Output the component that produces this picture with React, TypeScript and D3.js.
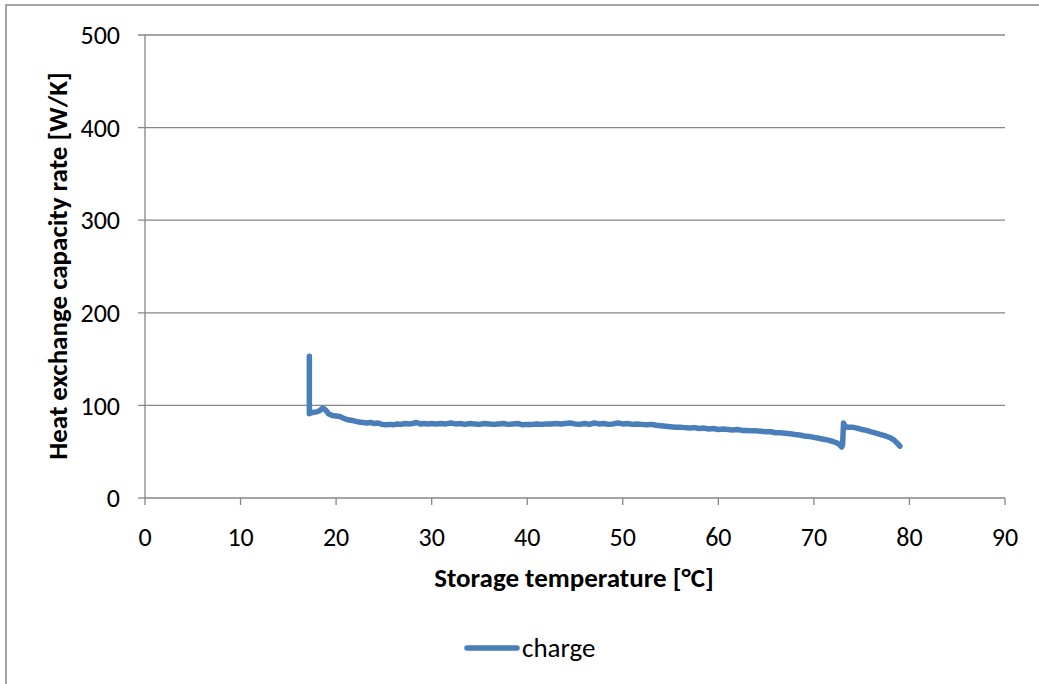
import React from "react";
import * as d3 from "d3";

const xTicks = [0, 10, 20, 30, 40, 50, 60, 70, 80, 90];
const yTicks = [0, 100, 200, 300, 400, 500];
const seriesName = "charge";

const temps = [
  17.2, 17.2, 17.25, 17.6, 18.0, 18.3, 18.6, 18.9, 19.2, 19.6, 20.0, 20.4, 20.8, 21.2, 21.6, 22.0, 22.4, 22.8,
  23.2, 23.6, 24.0, 24.4, 24.8, 25.2, 25.6, 26.0, 26.4, 26.8, 27.2, 27.6, 28.0, 28.4, 28.8, 29.2, 29.6, 30.0,
  30.5, 31.0, 31.5, 32.0, 32.5, 33.0, 33.5, 34.0, 34.5, 35.0, 35.5, 36.0, 36.5, 37.0, 37.5, 38.0, 38.5, 39.0,
  39.5, 40.0, 40.5, 41.0, 41.5, 42.0, 42.5, 43.0, 43.5, 44.0, 44.5, 45.0, 45.5, 46.0, 46.5, 47.0, 47.5, 48.0,
  48.5, 49.0, 49.5, 50.0, 50.5, 51.0, 51.5, 52.0, 52.5, 53.0, 53.5, 54.0, 54.5, 55.0, 55.5, 56.0, 56.5, 57.0,
  57.5, 58.0, 58.5, 59.0, 59.5, 60.0, 60.5, 61.0, 61.5, 62.0, 62.5, 63.0, 63.5, 64.0, 64.5, 65.0, 65.5, 66.0,
  66.5, 67.0, 67.5, 68.0, 68.5, 69.0, 69.5, 70.0, 70.5, 71.0, 71.5, 72.0, 72.4, 72.7, 72.9, 73.0, 73.1, 73.3,
  73.6, 74.0, 74.5, 75.0, 75.5, 76.0, 76.5, 77.0, 77.5, 78.0, 78.4, 78.7, 79.0,
];
const rates = [
  153, 91, 91.5, 92.5, 93, 94.5, 97, 95, 91, 89, 88.5, 88, 86, 84.5, 84, 83, 82, 81.5,
  81, 81.5, 80.5, 81, 79.5, 79, 79.5, 79, 80, 79.5, 80.5, 80, 80.5, 81.5, 80, 80.5, 80, 80.5,
  80, 80.5, 80, 81, 80, 80.5, 79.5, 80.5, 80, 79.5, 80.5, 80, 79.5, 80, 80.5, 79.5, 80, 80.5,
  79, 79.5, 79.5, 80, 79.5, 80, 80, 80.5, 80, 80.5, 81, 80, 79.5, 80.5, 79.5, 81, 80, 80.5,
  79.5, 80, 81, 80, 80.5, 79.5, 80, 79.5, 79, 79.5, 78.5, 78, 77.5, 77, 76.5, 76.5, 76, 75.5,
  76, 75, 75.5, 74.5, 75, 74, 74.5, 74, 73.5, 74, 73, 73, 72.5, 72.5, 72, 71.5, 71.5, 70.5,
  70.5, 70, 69.5, 68.5, 68, 67, 66.5, 65.5, 64.5, 63.5, 62.5, 61, 59.5, 57.5, 55, 57, 81, 77,
  76.5, 76.5, 75.5, 74, 73, 71.5, 70, 68.5, 67, 65, 62.5, 59.5, 56,
];

const W = 1039;
const H = 684;
const margin = { left: 145, right: 1005, top: 35, bottom: 498 };
const font = "Carlito, Calibri, 'Open Sans', sans-serif";
const grid = "#868686";
const blue = "#4a7ebb";

export default function App() {
  const x = d3.scaleLinear().domain([0, 90]).range([margin.left, margin.right]);
  const y = d3.scaleLinear().domain([0, 500]).range([margin.bottom, margin.top]);
  const pts: [number, number][] = temps.map((t, i) => [t, rates[i]]);
  const line = d3
    .line<[number, number]>()
    .x((d) => x(d[0]))
    .y((d) => y(d[1]));

  return (
    <svg
      width={W}
      height={H}
      style={{ position: "absolute", left: 0, top: 0, background: "#fff" }}
    >
      <rect x={0} y={0} width={W} height={H} fill="#fff" />
      <rect x={6} y={5} width={W + 20} height={H + 20} fill="none" stroke={grid} strokeWidth={1.5} />
      {yTicks.map((t) => (
        <g key={"y" + t}>
          <line
            x1={margin.left - 7}
            x2={t === 0 ? margin.left : margin.right}
            y1={y(t)}
            y2={y(t)}
            stroke={grid}
            strokeWidth={1.3}
          />
          <text
            x={120}
            y={y(t)}
            dy="0.35em"
            textAnchor="end"
            fontFamily={font}
            fontSize={26}
            fill="#000"
          >
            {t}
          </text>
        </g>
      ))}
      <line x1={margin.left} x2={margin.left} y1={margin.top} y2={margin.bottom} stroke={grid} strokeWidth={1.3} />
      <line x1={margin.left} x2={margin.right} y1={margin.bottom} y2={margin.bottom} stroke={grid} strokeWidth={1.3} />
      {xTicks.map((t) => (
        <g key={"x" + t}>
          <line x1={x(t)} x2={x(t)} y1={margin.bottom} y2={margin.bottom + 7} stroke={grid} strokeWidth={1.3} />
          <text
            x={x(t)}
            y={537}
            dy="0.35em"
            textAnchor="middle"
            fontFamily={font}
            fontSize={26}
            fill="#000"
          >
            {t}
          </text>
        </g>
      ))}
      <path
        d={line(pts) || ""}
        fill="none"
        stroke={blue}
        strokeWidth={5.5}
        strokeLinejoin="round"
        strokeLinecap="round"
      />
      <text
        x={574}
        y={578}
        dy="0.35em"
        textAnchor="middle"
        fontFamily={font}
        fontSize={27}
        fontWeight="bold"
        fill="#000"
      >
        Storage temperature [°C]
      </text>
      <text
        transform={`translate(58,266) rotate(-90)`}
        dy="0.35em"
        textAnchor="middle"
        fontFamily={font}
        fontSize={27}
        fontWeight="bold"
        fill="#000"
      >
        Heat exchange capacity rate [W/K]
      </text>
      <line x1={467} x2={517} y1={648} y2={648} stroke={blue} strokeWidth={5.5} strokeLinecap="round" />
      <text x={522} y={648} dy="0.35em" fontFamily={font} fontSize={27} fill="#000">
        {seriesName}
      </text>
    </svg>
  );
}
